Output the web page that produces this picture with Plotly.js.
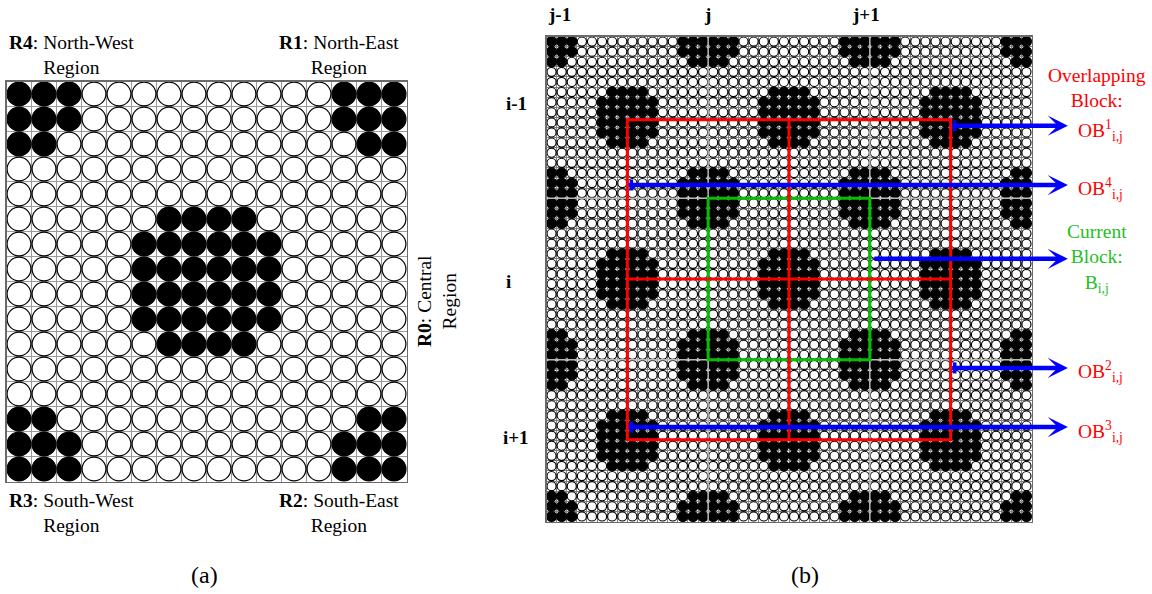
<!DOCTYPE html>
<html><head><meta charset="utf-8">
<script src="https://cdn.plot.ly/plotly-3.0.1.min.js"></script>
<style>html,body{margin:0;padding:0;background:#fff}#chart{width:1152px;height:594px}</style>
</head><body><div id="chart"></div>
<script>
// ---------------- data ----------------
const cellsPerBlock = 16;          // one block = 16 x 16 pixels (circles)
const blocksPerSide = 3;           // panel (b) shows 3 x 3 blocks
// black pixels of the block pattern, one entry per run: row, first column, last column
const blackRow  = [0, 0, 1, 1, 2, 2, 5, 6, 7, 8, 9, 10, 13, 13, 14, 14, 15, 15];
const blackFrom = [0, 13, 0, 13, 0, 14, 6, 5, 5, 5, 5, 6, 0, 14, 0, 13, 0, 13];
const blackTo   = [2, 15, 2, 15, 1, 15, 9, 10, 10, 10, 10, 9, 1, 15, 2, 15, 2, 15];
const regionLabels = [
  '<b>R4</b>: North-West<br>Region',
  '<b>R1</b>: North-East<br>Region',
  '<b>R3</b>: South-West<br>Region',
  '<b>R2</b>: South-East<br>Region',
  '<b>R0</b>: Central<br>Region'
];
const rowLabels = ['i-1', 'i', 'i+1'];
const colLabels = ['j-1', 'j', 'j+1'];
const overlapTitle = 'Overlapping<br>Block:';
const overlapLabels = ['OB<sup>1</sup><sub>i,j</sub>', 'OB<sup>4</sup><sub>i,j</sub>',
                       'OB<sup>2</sup><sub>i,j</sub>', 'OB<sup>3</sup><sub>i,j</sub>'];
const currentLabel = 'Current<br>Block:<br>B<sub>i,j</sub>';
const panelLabels = ['(a)', '(b)'];

// ---------------- build ----------------
const W = 1152, H = 594;
const FONT = '"Liberation Serif", "Times New Roman", serif';
const px = x => x / W, py = y => 1 - y / H;

const mask = [];
for (let r = 0; r < cellsPerBlock; r++) mask.push(new Array(cellsPerBlock).fill(false));
blackRow.forEach((r, k) => { for (let c = blackFrom[k]; c <= blackTo[k]; c++) mask[r][c] = true; });

function gridTrace(n, xa, ya, sizeW, sizeB, lw) {
  const x = [], y = [], col = [], sz = [];
  for (let r = 0; r < n; r++) for (let c = 0; c < n; c++) {
    const b = mask[r % cellsPerBlock][c % cellsPerBlock];
    x.push(c + 0.5); y.push(r + 0.5);
    col.push(b ? '#000000' : '#ffffff'); sz.push(b ? sizeB : sizeW);
  }
  return {type: 'scatter', mode: 'markers', x, y, xaxis: xa, yaxis: ya, hoverinfo: 'skip',
    cliponaxis: false,
    marker: {symbol: 'circle', size: sz, opacity: 1, color: col, line: {color: '#000', width: lw}}};
}
const nB = cellsPerBlock * blocksPerSide;
const traces = [
  gridTrace(cellsPerBlock, 'x', 'y', 23.8, 23.9, 1.2),
  gridTrace(nB, 'x2', 'y2', 9.1, 10.0, 1.15)
];

function ax(domain, range, anchor, gc) {
  return {domain, range, anchor, showgrid: true, gridcolor: gc, gridwidth: 1,
    tick0: 0, dtick: 1, showticklabels: false, ticks: '', zeroline: false,
    showline: true, mirror: true, linecolor: '#6a6a6a', linewidth: 1.5, fixedrange: true};
}

const annotations = [];
function txt(text, x, y, size, color, extra) {
  annotations.push(Object.assign({text, x: px(x), y: py(y), xref: 'paper', yref: 'paper',
    showarrow: false, xanchor: 'center', yanchor: 'middle',
    font: {family: FONT, size, color: color || '#000'}}, extra || {}));
}
// panel (a) labels
txt(regionLabels[0], 71.5, 55, 19.5);
txt(regionLabels[1], 339, 55, 19.5);
txt(regionLabels[2], 71.5, 513, 19.5);
txt(regionLabels[3], 339, 513, 19.5);
txt(regionLabels[4], 437, 301, 19.5, '#000', {textangle: -90});
txt(panelLabels[0], 204, 575, 24);
txt(panelLabels[1], 805, 575, 24);
// panel (b) row / column labels
const colX = [559, 707, 866], rowY = [104, 282, 437], rowX = [516, 508, 516];
colLabels.forEach((t, k) => txt('<b>' + t + '</b>', colX[k], 14, 19));
rowLabels.forEach((t, k) => txt('<b>' + t + '</b>', rowX[k], rowY[k], 19));
// right labels
txt(overlapTitle, 1097, 88, 19.5, '#ff0000');
const obY = [130, 189, 371, 431];
overlapLabels.forEach((t, k) => txt(t, 1100, obY[k], 19.5, '#ff0000'));
txt(currentLabel, 1097, 258, 19.5, '#1fc01f');

const shapes = [];
// block separators
[16, 32].forEach(v => {
  shapes.push({type: 'line', xref: 'x2', yref: 'y2', x0: v, x1: v, y0: 0, y1: nB, line: {color: '#b8b8b8', width: 1.5}});
  shapes.push({type: 'line', xref: 'x2', yref: 'y2', y0: v, y1: v, x0: 0, x1: nB, line: {color: '#b8b8b8', width: 1.5}});
});
// current block (green) and the four overlapping blocks (red)
shapes.push({type: 'rect', xref: 'x2', yref: 'y2', x0: 16, x1: 32, y0: 16, y1: 32,
  line: {color: '#00c000', width: 3}});
const red = {color: '#ff0000', width: 3};
shapes.push({type: 'rect', xref: 'x2', yref: 'y2', x0: 8, x1: 40, y0: 8.25, y1: 39.9, line: red});
shapes.push({type: 'line', xref: 'x2', yref: 'y2', x0: 24, x1: 24, y0: 8.25, y1: 39.9, line: red});
shapes.push({type: 'line', xref: 'x2', yref: 'y2', x0: 8, x1: 40, y0: 24, y1: 24, line: red});

// blue arrows (block-cell coordinates of panel b)
const headX = 51.6;
const arrowTail = [40, 8, 32.3, 40, 8];
const arrowY = [8.83, 14.7, 22.0, 32.8, 38.65];
const arrowCap = [true, true, false, true, true];
arrowTail.forEach((t, k) => {
  annotations.push({text: '', x: headX, y: arrowY[k], ax: t, ay: arrowY[k],
    xref: 'x2', yref: 'y2', axref: 'x2', ayref: 'y2', showarrow: true,
    arrowhead: 3, arrowsize: 0.75, arrowwidth: 4.5, arrowcolor: '#0000ff'});
  if (arrowCap[k]) shapes.push({type: 'line', xref: 'x2', yref: 'y2', x0: t + 0.4, x1: t + 0.4,
    y0: arrowY[k] - 0.55, y1: arrowY[k] + 0.55, line: {color: '#0000ff', width: 3.5}});
});

const layout = {
  width: W, height: H, autosize: false, showlegend: false,
  margin: {l: 0, r: 0, t: 0, b: 0, pad: 0},
  paper_bgcolor: '#fff', plot_bgcolor: '#fff',
  xaxis: ax([px(6.5), px(406.5)], [0, cellsPerBlock], 'y', '#9a9a9a'),
  yaxis: ax([py(481.5), py(81.5)], [cellsPerBlock, 0], 'x', '#9a9a9a'),
  xaxis2: ax([px(546.5), px(1031.5)], [0, nB], 'y2', '#808080'),
  yaxis2: ax([py(521.5), py(36.5)], [nB, 0], 'x2', '#808080'),
  annotations, shapes
};
Plotly.newPlot('chart', traces, layout, {displayModeBar: false, staticPlot: true});
</script></body></html>
